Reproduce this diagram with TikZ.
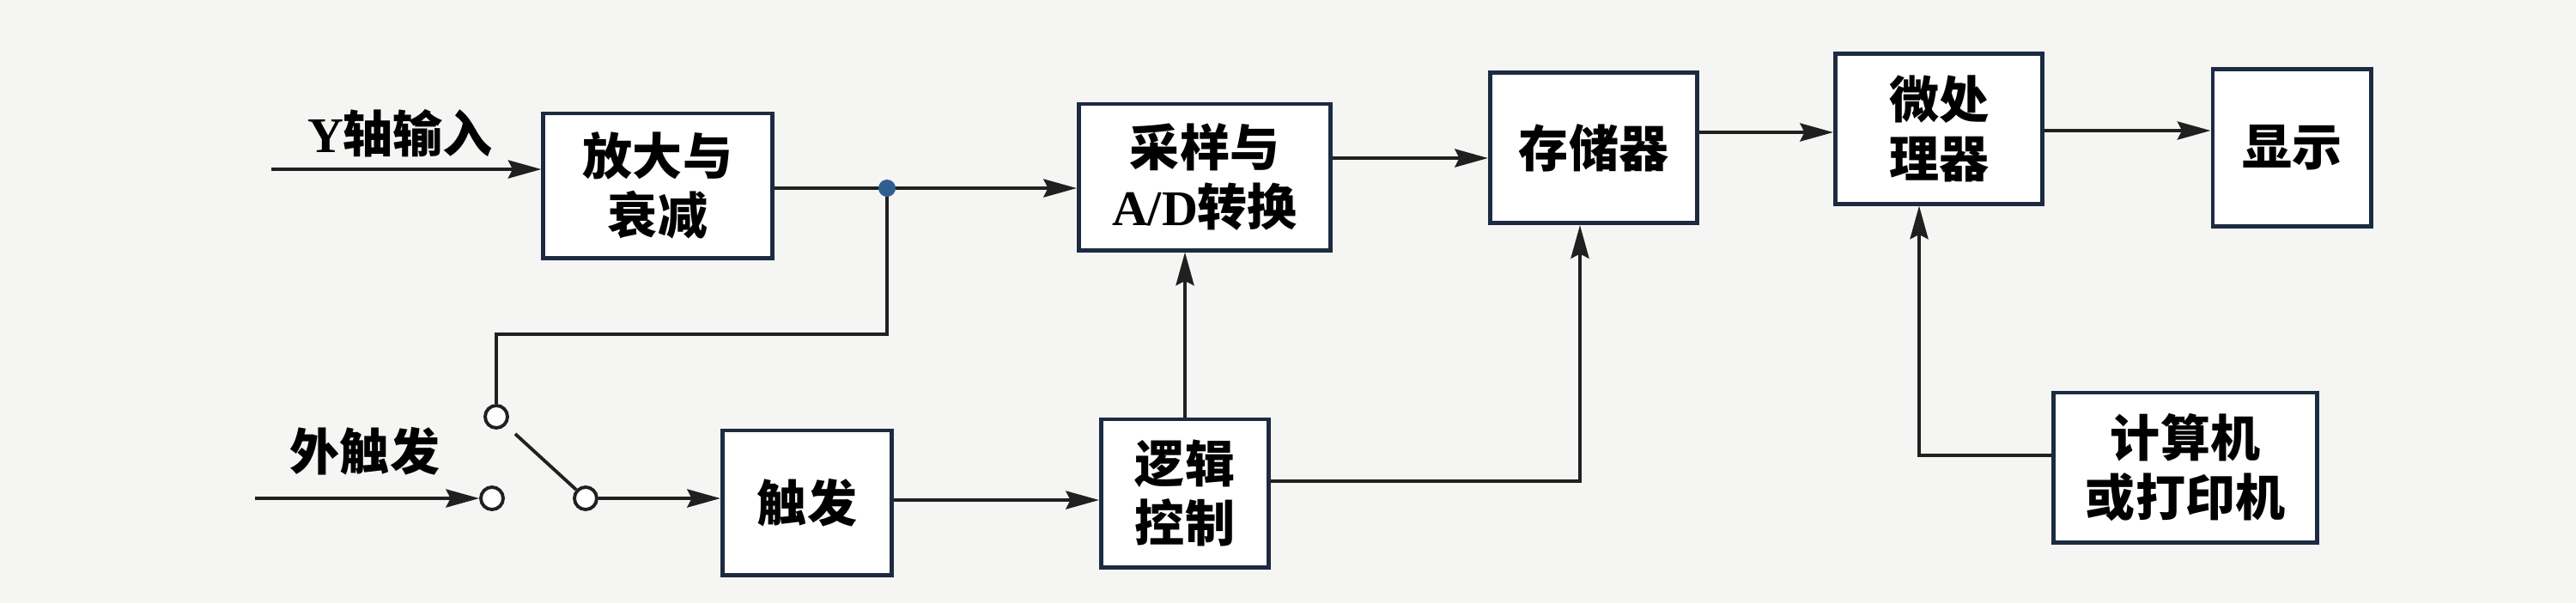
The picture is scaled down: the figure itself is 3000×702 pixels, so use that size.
\documentclass[tikz,border=0pt]{standalone}
\usepackage{fontspec}
\setmainfont{Noto Sans CJK SC}
\newfontfamily\lat{Liberation Serif}
\usetikzlibrary{arrows.meta}
\definecolor{bg}{HTML}{F5F5F3}
\definecolor{boxline}{HTML}{1C2B42}
\definecolor{wire}{HTML}{202020}
\definecolor{dotc}{HTML}{2F5F8F}
\tikzset{
  blk/.style={draw=boxline, line width=1.4pt, fill=white, align=center, inner sep=2pt,
    font=\fontsize{16.5}{19.5}\selectfont\bfseries},
  lbl/.style={font=\fontsize{16.5}{19.5}\selectfont\bfseries, inner sep=0pt},
  wireline/.style={draw=wire, line width=1.1pt},
  arr/.style={wireline, -{Stealth[length=11pt,width=6pt,inset=1.5pt]}},
  term/.style={circle, draw=wire, line width=1.1pt, fill=white, minimum size=0.26cm, inner sep=0pt}
}
\begin{document}
\begin{tikzpicture}[x=0.01cm,y=-0.01cm]
\useasboundingbox (0,0) rectangle (3000,702);
\fill[bg] (0,0) rectangle (3000,702);

% blocks
\node[blk, minimum width=2.66cm, minimum height=1.68cm] (amp) at (766,216) {放大与\\衰减};
\node[blk, minimum width=2.93cm, minimum height=1.70cm] (samp) at (1403,206) {采样与\\{\lat\bfseries A/D}转换};
\node[blk, minimum width=2.41cm, minimum height=1.75cm] (mem) at (1856,172) {存储器};
\node[blk, minimum width=2.41cm, minimum height=1.74cm] (mpu) at (2258,150) {微处\\理器};
\node[blk, minimum width=1.84cm, minimum height=1.83cm] (disp) at (2669,172) {显示};
\node[blk, minimum width=3.06cm, minimum height=1.74cm] (comp) at (2545,544) {计算机\\或打印机};
\node[blk, minimum width=1.97cm, minimum height=1.68cm] (trig) at (940,585) {触发};
\node[blk, minimum width=1.95cm, minimum height=1.72cm] (logic) at (1380,574) {逻辑\\控制};

% labels
\node[lbl] (ylab) at (466,155) {{\lat\bfseries Y}轴输入};
\node[lbl] (xlab) at (425,525) {外触发};

% switch terminals
\node[term] (swU) at (578,485) {};
\node[term] (swL) at (573,580) {};
\node[term] (swR) at (682,580) {};
\coordinate (lev) at (600,505);
\coordinate (yin) at (316,197);
\coordinate (xin) at (297,580);
\coordinate (j) at (1033,219);

% connectors
\draw[arr] (yin) -- (amp.west |- yin);
\draw[wireline] (amp.east |- j) -- (j);
\draw[arr] (j) -- (samp.west |- j);
\draw[wireline] (j) -- (j |- 0,389) -- (swU |- 0,389) -- (swU);
\draw[arr] (xin) -- (swL);
\draw[wireline] (lev) -- (swR);
\draw[arr] (swR) -- (trig.west |- swR);
\draw[arr] (trig.east |- 0,582) -- (logic.west |- 0,582);
\draw[arr] (logic.north) -- (samp.south -| logic.north);
\draw[arr] (logic.east |- 0,560) -- (1840,560) -- (mem.south -| 1840,0);
\draw[arr] (samp.east |- 0,184) -- (mem.west |- 0,184);
\draw[arr] (mem.east |- 0,154) -- (mpu.west |- 0,154);
\draw[arr] (mpu.east |- 0,152) -- (disp.west |- 0,152);
\draw[arr] (comp.west |- 0,530) -- (2235,530) -- (mpu.south -| 2235,0);

\fill[dotc] (j) circle (10);
\end{tikzpicture}
\end{document}
